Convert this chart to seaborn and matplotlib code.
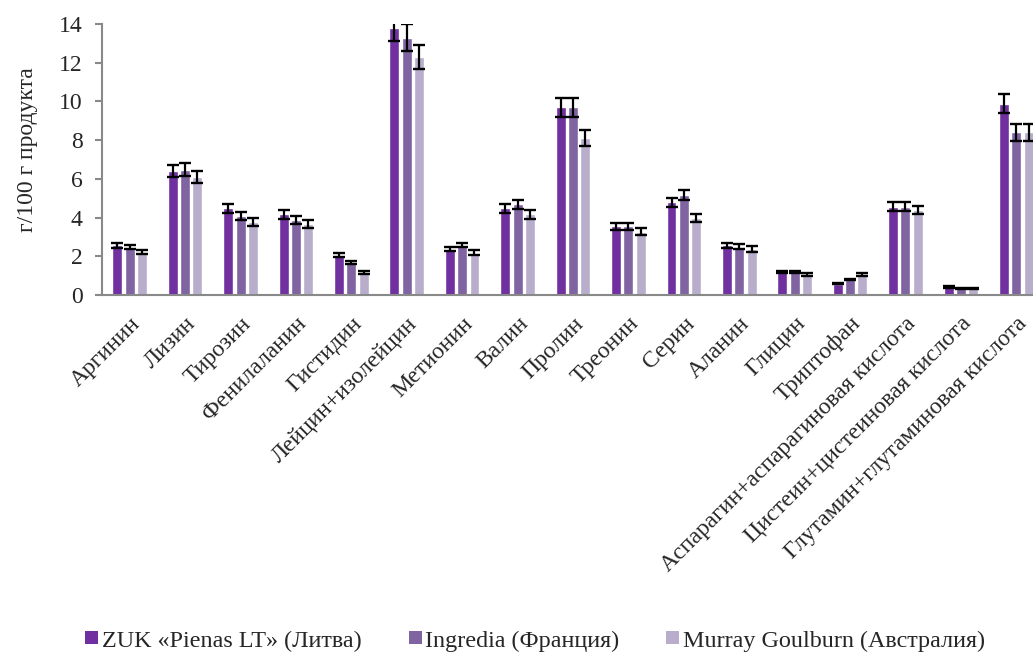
import matplotlib
matplotlib.use("Agg")
import matplotlib.pyplot as plt
import seaborn as sns
import pandas as pd
import numpy as np
from matplotlib.patches import Patch

amino_acids = [
    "Аргинин", "Лизин", "Тирозин", "Фенилаланин", "Гистидин",
    "Лейцин+изолейцин", "Метионин", "Валин", "Пролин", "Треонин",
    "Серин", "Аланин", "Глицин", "Триптофан",
    "Аспарагин+аспарагиновая кислота", "Цистеин+цистеиновая кислота",
    "Глутамин+глутаминовая кислота",
]
sources = ["ZUK «Pienas LT» (Литва)", "Ingredia (Франция)", "Murray Goulburn (Австралия)"]

zuk = [2.57, 6.40, 4.49, 4.17, 2.07, 13.80, 2.38, 4.49, 9.70, 3.55, 4.78, 2.56, 1.18, 0.58, 4.57, 0.41, 9.88]
ingredia = [2.48, 6.48, 4.08, 3.87, 1.67, 13.30, 2.58, 4.69, 9.70, 3.55, 5.18, 2.49, 1.18, 0.81, 4.57, 0.34, 8.40]
murray = [2.20, 6.10, 3.76, 3.68, 1.17, 12.30, 2.18, 4.17, 8.10, 3.28, 3.99, 2.38, 1.07, 1.07, 4.38, 0.34, 8.40]

zuk_err = [0.13, 0.32, 0.23, 0.22, 0.10, 0.70, 0.12, 0.23, 0.48, 0.19, 0.23, 0.14, 0.06, 0.03, 0.23, 0.03, 0.50]
ingredia_err = [0.10, 0.32, 0.20, 0.20, 0.09, 0.68, 0.12, 0.24, 0.48, 0.19, 0.27, 0.13, 0.06, 0.04, 0.23, 0.03, 0.43]
murray_err = [0.10, 0.31, 0.20, 0.20, 0.07, 0.62, 0.13, 0.22, 0.40, 0.17, 0.21, 0.14, 0.07, 0.07, 0.22, 0.03, 0.43]

colors = ["#7030A0", "#8064A2", "#B8AECB"]

values = [zuk, ingredia, murray]
errors = [zuk_err, ingredia_err, murray_err]

df = pd.DataFrame({
    "amino": np.tile(amino_acids, len(sources)),
    "source": np.repeat(sources, len(amino_acids)),
    "value": np.concatenate(values),
})

sns.set_style("white")
plt.rcParams["font.family"] = ["Liberation Serif", "DejaVu Serif"]

FS = 17

fig = plt.figure(figsize=(10.33, 6.55), dpi=100)
ax = fig.add_axes([102 / 1033, 1 - 295 / 655, (1044 - 102) / 1033, (295 - 24) / 655])

sns.barplot(data=df, x="amino", y="value", hue="source", order=amino_acids,
            hue_order=sources, palette=colors, width=0.667, gap=0.19,
            errorbar=None, saturation=1, ax=ax, legend=False)

# error bars centred on each drawn bar
for cont, err in zip(ax.containers, errors):
    xs = [p.get_x() + p.get_width() / 2 for p in cont.patches]
    ys = [p.get_height() for p in cont.patches]
    ax.errorbar(xs, ys, yerr=err, fmt="none", ecolor="black",
                elinewidth=1.6, capsize=4, capthick=1.7, zorder=5)

ax.set_ylim(0, 14)
ax.set_xlim(-0.5, len(amino_acids) - 0.5)
ax.set_yticks(np.arange(0, 15, 2))
ax.set_ylabel("г/100 г продукта", fontsize=FS)
ax.yaxis.set_label_coords(-0.068, 0.535)
ax.set_xlabel("")

ax.set_xticks(np.arange(len(amino_acids)))
ax.set_xticklabels(amino_acids, rotation=45, ha="right", va="top",
                   rotation_mode="anchor", fontsize=FS)
ax.set_xticks(np.arange(-0.5, len(amino_acids), 1), minor=True)
ax.tick_params(axis="x", which="major", length=0, pad=13)
ax.tick_params(axis="x", which="minor", length=6, width=1.5, color="#898989", direction="out")
ax.tick_params(axis="y", labelsize=FS, length=5, width=1.5, color="#898989",
               direction="out", left=True, pad=9)

for side in ["top", "right"]:
    ax.spines[side].set_visible(False)
for side in ["left", "bottom"]:
    ax.spines[side].set_color("#898989")
    ax.spines[side].set_linewidth(1.5)

handles = [Patch(facecolor=c, edgecolor="none") for c in colors]
fig.legend(handles, sources, loc="center", bbox_to_anchor=(0.518, 1 - 641 / 655),
           ncol=3, frameon=False, fontsize=17.4, handlelength=0.54, handleheight=0.45,
           handletextpad=0.15, columnspacing=1.95, borderpad=0.1)

fig.savefig("out.png", dpi=100)
